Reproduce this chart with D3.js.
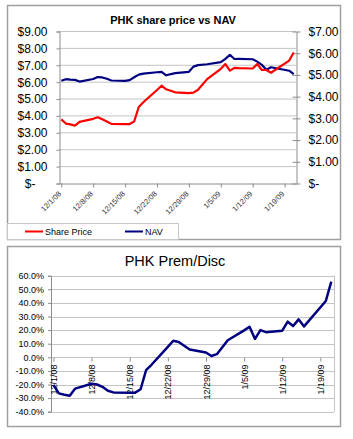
<!DOCTYPE html>
<html><head><meta charset="utf-8">
<script src="https://cdn.jsdelivr.net/npm/d3@7"></script>
<style>body{margin:0;background:#fff;} svg text{font-family:"Liberation Sans",Arial,sans-serif;}</style>
</head><body><svg id="c" width="353" height="439"></svg>
<script>
// ---- data ----
const dates = ["2008-12-01","2008-12-02","2008-12-03","2008-12-04","2008-12-05",
  "2008-12-08","2008-12-09","2008-12-10","2008-12-11","2008-12-12",
  "2008-12-15","2008-12-16","2008-12-17","2008-12-18","2008-12-19",
  "2008-12-22","2008-12-23","2008-12-24","2008-12-26",
  "2008-12-29","2008-12-30","2008-12-31","2009-01-02",
  "2009-01-05","2009-01-06","2009-01-07","2009-01-08","2009-01-09",
  "2009-01-12","2009-01-13","2009-01-14","2009-01-15","2009-01-16",
  "2009-01-20","2009-01-21"];
const sharePrice = [3.77,3.52,3.47,3.40,3.62, 3.80,3.89,3.77,3.64,3.50,
  3.49,3.49,3.65,4.50,4.78, 5.51,5.76,5.55,5.37, 5.32,5.35,5.52,6.15,
  6.76,7.04,6.65,6.82,6.80, 6.78,7.04,6.69,6.69,6.53, 7.25,7.73];
const nav = [4.71,4.78,4.76,4.75,4.67, 4.79,4.88,4.86,4.80,4.72,
  4.70,4.74,4.87,4.99,5.04, 5.10,5.12,4.96,5.06, 5.12,5.36,5.43,5.47,
  5.57,5.72,5.90,5.71,5.72, 5.70,5.59,5.44,5.22,5.33, 5.17,5.01];
const premDisc = [-20.4,-26.5,-27.5,-28.2,-23, -19.5,-20,-21.7,-24.6,-25.8,
  -26,-26,-23.5,-9.5,-5.5, 7.7,12.2,11.3,5.8, 3.5,1,2.3,12.5,
  19.8,22.5,13.5,20,18.5, 19.6,26.2,23,27.9,22.7, 41.4,55.6];
const leftTicks = [0,1,2,3,4,5,6,7,8,9];
const rightTicks = [0,1,2,3,4,5,6,7];
const premTicks = [-40,-30,-20,-10,0,10,20,30,40,50,60];
const weekTicks = ["2008-12-01","2008-12-08","2008-12-15","2008-12-22","2008-12-29","2009-01-05","2009-01-12","2009-01-19"];
const xDomain = ["2008-11-30T12:00","2009-01-21T12:00"];
const titles = ["PHK share price vs NAV","PHK Prem/Disc"];
const legendNames = ["Share Price","NAV"];

// ---- drawing ----
const parse = d3.timeParse("%Y-%m-%d");
const parseT = d3.timeParse("%Y-%m-%dT%H:%M");
const D = dates.map(parse);
const W = weekTicks.map(parse);
const dom = xDomain.map(parseT);
const fmt = d3.timeFormat("%-m/%-d/%y");
const svg = d3.select("#c");
const RED = "#ff0000", NAVY = "#000080", GRID = "#c4c4c4", AX = "#8c8c8c";

// ===== top chart =====
svg.append("rect").attr("x",7.5).attr("y",5.5).attr("width",333).attr("height",234)
  .attr("fill","#fff").attr("stroke","#a0a0a0").attr("stroke-width",1.5);
svg.append("text").attr("x",173).attr("y",24).attr("text-anchor","middle")
  .attr("font-size",11).attr("font-weight","bold").text(titles[0]);

const xT = d3.scaleTime().domain(dom).range([59,296]);
const yL = d3.scaleLinear().domain([0,9]).range([183,31]);
const yR = d3.scaleLinear().domain([0,7]).range([183,31]);

svg.append("g").selectAll("line").data(leftTicks.filter(v=>v>0)).join("line")
  .attr("x1",59).attr("x2",296).attr("y1",d=>yL(d)+0.5).attr("y2",d=>yL(d)+0.5)
  .attr("stroke",GRID).attr("stroke-width",1);

const gL = svg.append("g").attr("transform","translate(59.5,0.5)")
  .call(d3.axisLeft(yL).tickValues(leftTicks).tickSize(3).tickPadding(9)
    .tickFormat(v => v===0 ? "$-" : "$"+v.toFixed(2)));
gL.selectAll("text").attr("font-size",12).attr("fill","#000")
  .attr("font-family","'Liberation Sans',Arial,sans-serif")
  .attr("dx", d => d===0 ? -12 : 0);
gL.selectAll("line,path").attr("stroke",AX);

const gR = svg.append("g").attr("transform","translate(296.5,0.5)")
  .call(d3.axisRight(yR).tickValues(rightTicks).tickSizeInner(4).tickSizeOuter(0)
    .tickFormat(v => v===0 ? "$-" : "$"+v.toFixed(2)));
gR.selectAll(".tick line").attr("x1",-4).attr("x2",4);
gR.selectAll("text").attr("x",12).attr("font-size",12).attr("fill","#000")
  .attr("font-family","'Liberation Sans',Arial,sans-serif");
gR.selectAll("line,path").attr("stroke",AX);

const gX = svg.append("g").attr("transform","translate(0,183.5)")
  .call(d3.axisBottom(xT).tickValues(W).tickSizeInner(4).tickSizeOuter(0).tickFormat(fmt));
gX.selectAll("line,path").attr("stroke",AX);
gX.selectAll("text").attr("font-size",7.5).attr("fill","#333")
  .attr("font-family","'Liberation Sans',Arial,sans-serif")
  .attr("text-anchor","end").attr("y",0).attr("dy","0.35em")
  .attr("transform","translate(-2,9) rotate(-45)");

const lineP = d3.line().x((d,i)=>xT(D[i])).y(d=>yL(d));
const lineN = d3.line().x((d,i)=>xT(D[i])).y(d=>yR(d));
svg.append("path").datum(nav).attr("d",lineN).attr("fill","none")
  .attr("stroke",NAVY).attr("stroke-width",2.2).attr("stroke-linejoin","round");
svg.append("path").datum(sharePrice).attr("d",lineP).attr("fill","none")
  .attr("stroke",RED).attr("stroke-width",2.2).attr("stroke-linejoin","round");

// legend
svg.append("rect").attr("x",7.5).attr("y",223.5).attr("width",171).attr("height",16)
  .attr("fill","#fff").attr("stroke","#c8c8c8").attr("stroke-width",1);
const legC = [RED, NAVY], legX = [25,125];
legendNames.forEach((n,i)=>{
  svg.append("line").attr("x1",legX[i]).attr("x2",legX[i]+18).attr("y1",231.5).attr("y2",231.5)
    .attr("stroke",legC[i]).attr("stroke-width",2);
  svg.append("text").attr("x",legX[i]+20).attr("y",234.5).attr("font-size",9).text(n);
});

// ===== bottom chart =====
svg.append("rect").attr("x",7.5).attr("y",246.5).attr("width",333).attr("height",180)
  .attr("fill","#fff").attr("stroke","#a0a0a0").attr("stroke-width",1.5);
svg.append("text").attr("x",175).attr("y",266).attr("text-anchor","middle")
  .attr("font-size",14.5).text(titles[1]);

const xB = d3.scaleTime().domain(dom).range([50.7,334]);
const yB = d3.scaleLinear().domain([-40,60]).range([411.7,275.7]);

svg.append("g").selectAll("line").data(premTicks).join("line")
  .attr("x1",50.7).attr("x2",334).attr("y1",d=>Math.round(yB(d))+0.5).attr("y2",d=>Math.round(yB(d))+0.5)
  .attr("stroke",GRID).attr("stroke-width",1);
svg.append("line").attr("x1",334.5).attr("x2",334.5).attr("y1",yB(60)).attr("y2",yB(-40))
  .attr("stroke",GRID);

const gB = svg.append("g").attr("transform","translate(51,0)")
  .call(d3.axisLeft(yB).tickValues(premTicks).tickSize(3).tickPadding(4)
    .tickFormat(v => v.toFixed(1)+"%"));
gB.selectAll("line,path").attr("stroke",AX);
gB.selectAll("text").attr("font-size",9).attr("fill","#000")
  .attr("font-family","'Liberation Sans',Arial,sans-serif");

const gBX = svg.append("g").attr("transform","translate(0,"+(Math.round(yB(0))+0.5)+")")
  .call(d3.axisBottom(xB).tickValues(W).tickSizeInner(4).tickSizeOuter(0).tickFormat(fmt));
gBX.select("path").remove();
gBX.selectAll("line").attr("stroke",AX);
gBX.selectAll("text").attr("font-size",9).attr("fill","#000")
  .attr("font-family","'Liberation Sans',Arial,sans-serif")
  .attr("text-anchor","end").attr("y",0).attr("dy","0.35em")
  .attr("transform","translate(0,7) rotate(-90)");

const lineB = d3.line().x((d,i)=>xB(D[i])).y(d=>yB(d));
svg.append("path").datum(premDisc).attr("d",lineB).attr("fill","none")
  .attr("stroke",NAVY).attr("stroke-width",2.5).attr("stroke-linejoin","round");
</script></body></html>
